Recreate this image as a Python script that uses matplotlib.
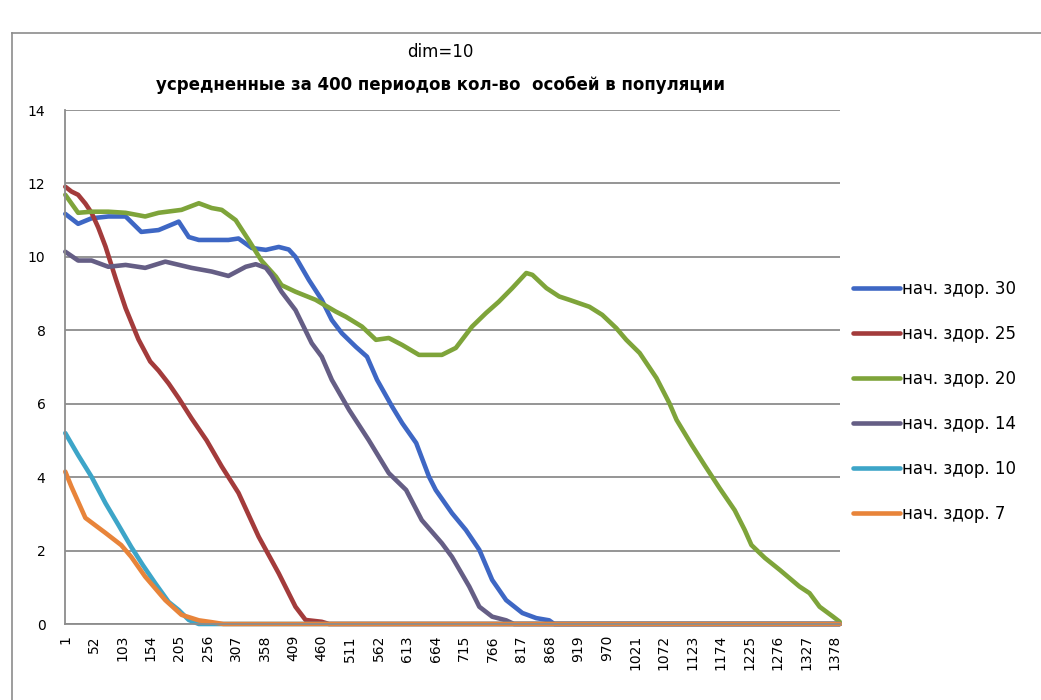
import matplotlib
matplotlib.use("Agg")
import matplotlib.pyplot as plt
from matplotlib.lines import Line2D

# Population counts averaged over 400 periods, for several initial health values.
# Each series is given as (period, mean count) knots along its trajectory.
n_periods = 1387

health_30_t = [1, 24, 48, 78, 109, 137, 168, 198, 204, 222, 240, 293, 311, 335, 360, 383,
               401, 413, 437, 460, 478, 496, 521, 541, 559, 586, 604, 629, 652, 664, 693,
               718, 742, 765, 790, 819, 844, 867, 876, 1387]
health_30_v = [11.17, 10.9, 11.05, 11.1, 11.1, 10.68, 10.73, 10.92, 10.96, 10.54, 10.46, 10.46,
               10.5, 10.24, 10.19, 10.27, 10.2, 10.0, 9.37, 8.83, 8.28, 7.92, 7.55, 7.28, 6.65,
               5.92, 5.47, 4.93, 4.01, 3.65, 3.02, 2.56, 2.02, 1.2, 0.65, 0.3, 0.16, 0.1, 0.0, 0.0]

health_25_t = [1, 12, 24, 37, 48, 60, 73, 92, 109, 132, 153, 168, 186, 204, 227, 254, 281,
               311, 347, 383, 413, 431, 460, 473, 1387]
health_25_v = [11.91, 11.78, 11.69, 11.45, 11.2, 10.8, 10.28, 9.37, 8.6, 7.75, 7.15, 6.9, 6.55,
               6.15, 5.6, 5.0, 4.29, 3.57, 2.38, 1.38, 0.47, 0.11, 0.06, 0.0, 0.0]

health_20_t = [1, 24, 48, 78, 109, 144, 168, 209, 240, 263, 281, 306, 329, 352, 378, 388,
               413, 449, 485, 503, 532, 557, 580, 604, 634, 675, 700, 729, 754, 777, 801,
               826, 837, 862, 885, 903, 939, 962, 987, 1005, 1029, 1059, 1082, 1095, 1122,
               1145, 1172, 1199, 1217, 1229, 1253, 1280, 1315, 1333, 1351, 1375, 1387]
health_20_v = [11.69, 11.2, 11.23, 11.23, 11.2, 11.1, 11.2, 11.28, 11.46, 11.33, 11.28, 11.0,
               10.46, 9.9, 9.46, 9.23, 9.05, 8.83, 8.51, 8.37, 8.1, 7.74, 7.79, 7.6, 7.33,
               7.33, 7.52, 8.1, 8.47, 8.78, 9.15, 9.56, 9.51, 9.15, 8.92, 8.83, 8.64, 8.42,
               8.06, 7.74, 7.38, 6.7, 6.02, 5.56, 4.88, 4.33, 3.7, 3.1, 2.56, 2.15, 1.8,
               1.47, 1.02, 0.84, 0.47, 0.2, 0.06]

health_14_t = [1, 24, 48, 78, 109, 144, 180, 227, 263, 293, 324, 342, 360, 370, 388, 413,
               442, 460, 478, 509, 544, 580, 611, 639, 675, 693, 724, 742, 765, 790, 804, 1387]
health_14_v = [10.14, 9.9, 9.9, 9.73, 9.78, 9.7, 9.87, 9.7, 9.6, 9.48, 9.73, 9.8, 9.7, 9.5,
               9.05, 8.55, 7.65, 7.28, 6.65, 5.83, 5.01, 4.11, 3.65, 2.83, 2.2, 1.83, 1.02,
               0.47, 0.2, 0.1, 0.0, 0.0]

health_10_t = [1, 24, 48, 73, 96, 119, 140, 162, 186, 204, 222, 240, 1387]
health_10_v = [5.2, 4.6, 4.01, 3.29, 2.7, 2.1, 1.6, 1.11, 0.6, 0.38, 0.11, 0.0, 0.0]

health_7_t = [1, 12, 37, 73, 101, 119, 144, 180, 209, 240, 263, 284, 1387]
health_7_v = [4.15, 3.74, 2.89, 2.48, 2.15, 1.83, 1.29, 0.65, 0.25, 0.1, 0.05, 0.0, 0.0]

series_labels = ["нач. здор. 30", "нач. здор. 25", "нач. здор. 20",
                 "нач. здор. 14", "нач. здор. 10", "нач. здор. 7"]
series_t = [health_30_t, health_25_t, health_20_t, health_14_t, health_10_t, health_7_t]
series_v = [health_30_v, health_25_v, health_20_v, health_14_v, health_10_v, health_7_v]
colors = ["#3E67C4", "#A33B3B", "#7EA43A", "#655E85", "#3DA5C8", "#E8843A"]

tick_periods = list(range(1, 1379, 51))
y_ticks = [0, 2, 4, 6, 8, 10, 12, 14]

W, H = 1041, 700
fig = plt.figure(figsize=(W / 100, H / 100), dpi=100)
fig.patch.set_facecolor("white")

# chart frame
fig.add_artist(Line2D([12 / W, 1.0], [1 - 33 / H, 1 - 33 / H], color="#8c8c8c", lw=1.2,
                      transform=fig.transFigure))
fig.add_artist(Line2D([12 / W, 12 / W], [1 - 33 / H, 0.0], color="#8c8c8c", lw=1.2,
                      transform=fig.transFigure))

ax = fig.add_axes([65 / W, 1 - 624 / H, (840 - 65) / W, (624 - 110) / H])

for t, v, c, lab in zip(series_t, series_v, colors, series_labels):
    ax.plot(t, v, color=c, lw=3.3, label=lab, solid_joinstyle="round",
            solid_capstyle="round", clip_on=False)

ax.set_xlim(0.5, n_periods + 0.5)
ax.set_ylim(0, 14)
ax.set_yticks(y_ticks)
ax.set_xticks(tick_periods)
ax.set_xticklabels([str(p) for p in tick_periods], rotation=90, fontsize=10,
                   family="DejaVu Sans")
ax.set_yticklabels([str(y) for y in y_ticks], fontsize=10, family="DejaVu Sans")
ax.yaxis.grid(True, color="#8c8c8c", lw=1.3)
ax.set_axisbelow(True)
for side in ("top", "right"):
    ax.spines[side].set_visible(False)
for side in ("left", "bottom"):
    ax.spines[side].set_color("#8c8c8c")
    ax.spines[side].set_linewidth(1.3)
ax.tick_params(axis="x", length=0, pad=8)
ax.tick_params(axis="y", length=0, pad=14)

title_font = ["Liberation Sans Narrow", "DejaVu Sans Condensed", "DejaVu Sans"]
fig.text(440 / W, 1 - 52 / H, "dim=10", ha="center", va="center", fontsize=12,
         family=title_font)
fig.text(440 / W, 1 - 85 / H, "усредненные за 400 периодов кол-во  особей в популяции",
         ha="center", va="center", fontsize=12, fontweight="bold", family=title_font)

fig.legend(loc="upper left", bbox_to_anchor=(853 / W, 1 - 280 / H), frameon=False,
           handlelength=2.8, handletextpad=0.15, labelspacing=1.62,
           borderaxespad=0, borderpad=0, prop={"family": "DejaVu Sans", "size": 12})

fig.savefig("out.png", dpi=100, facecolor="white")
